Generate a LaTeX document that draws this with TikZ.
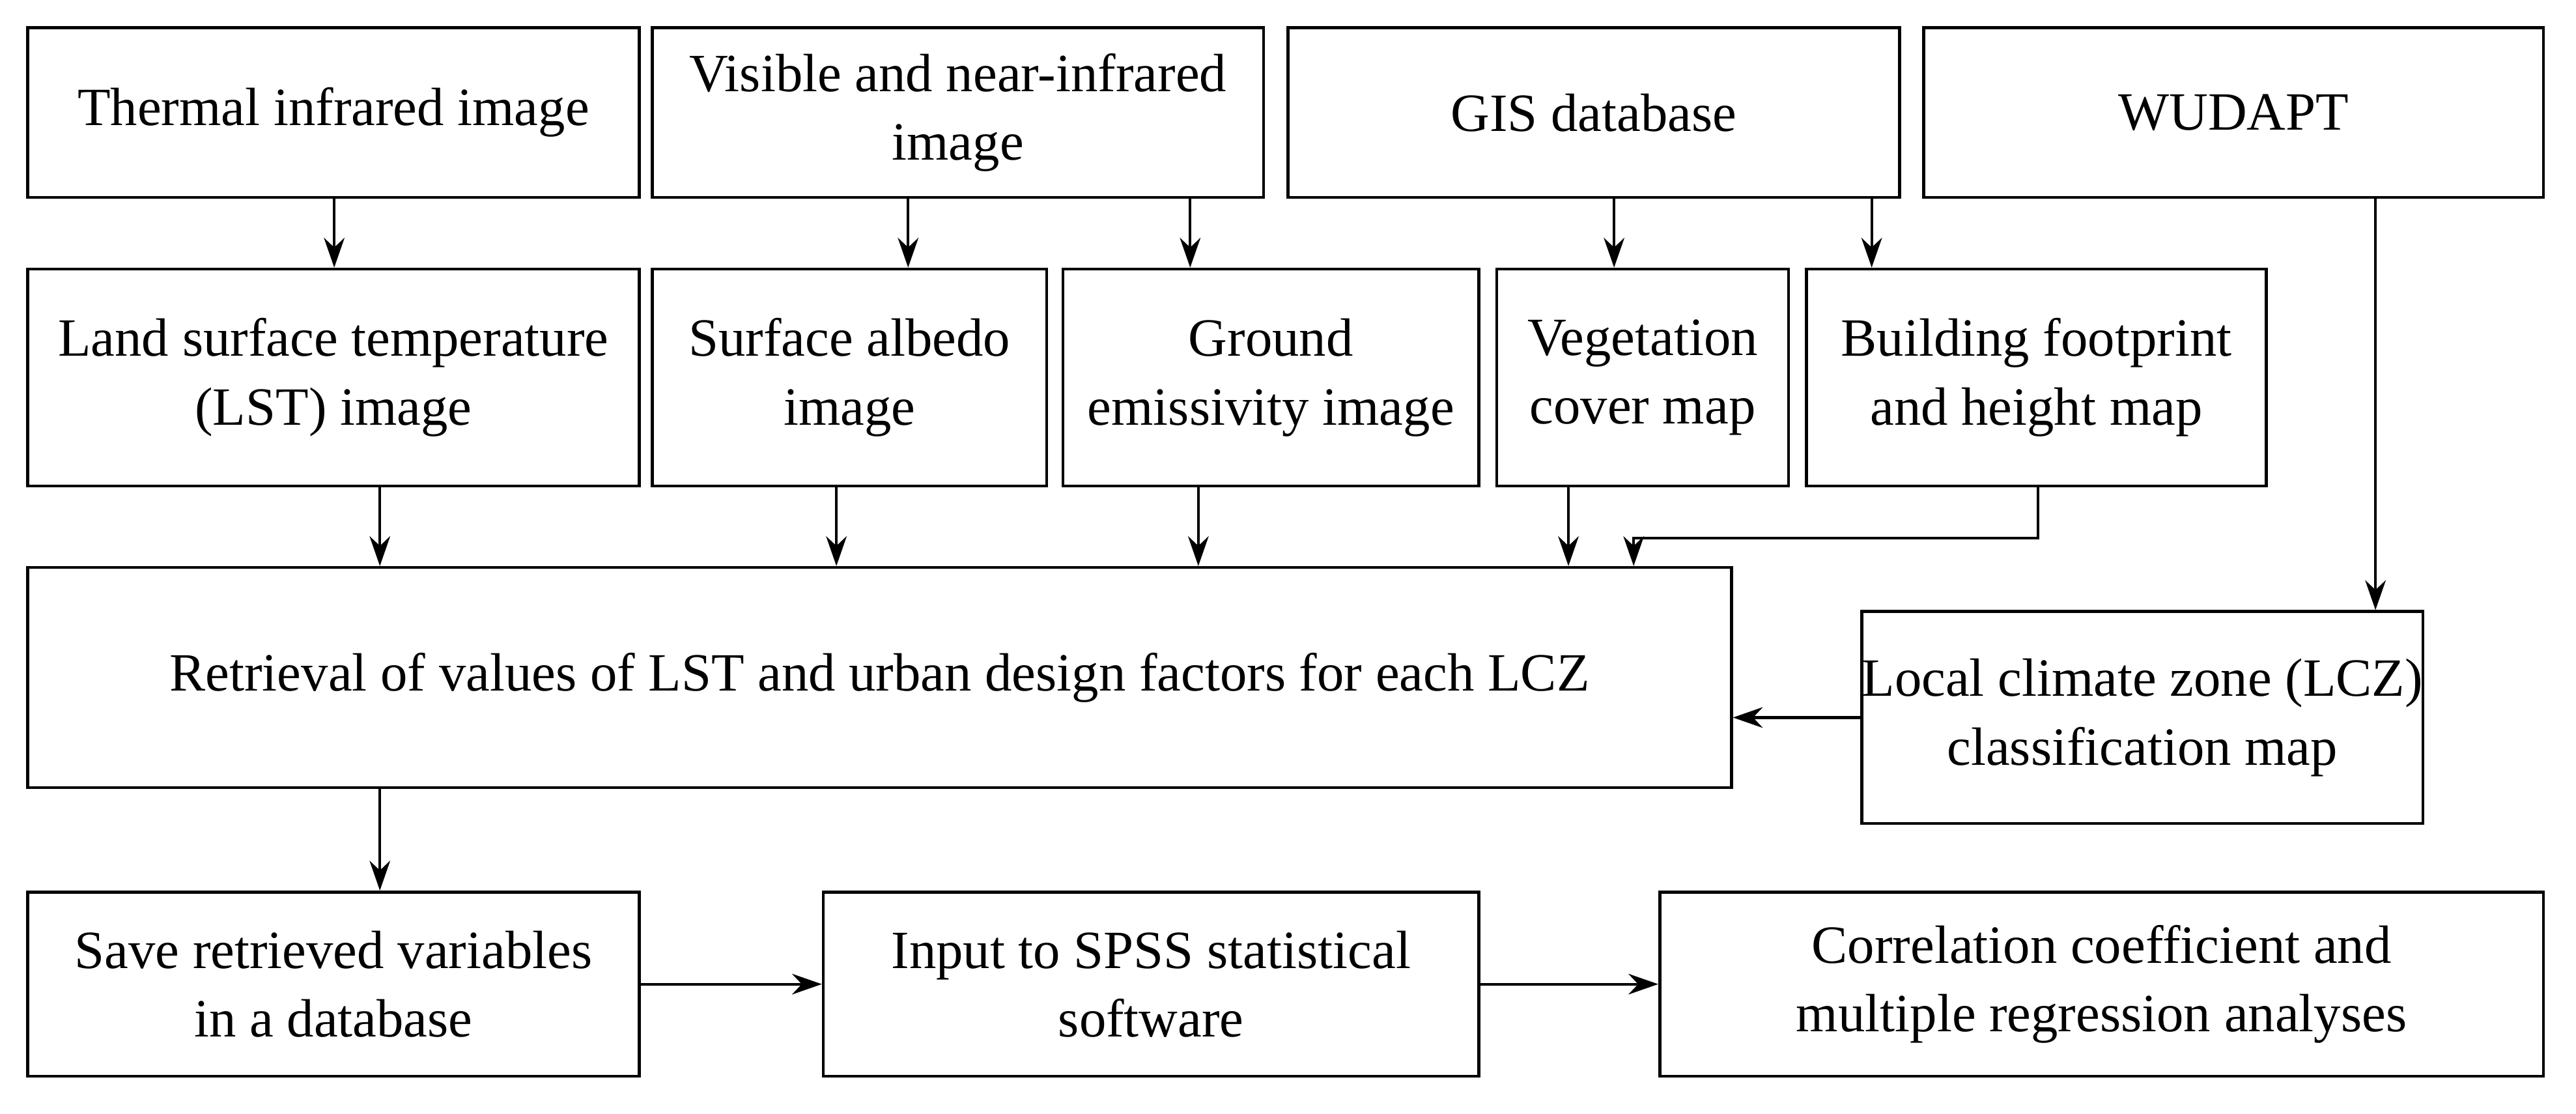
\documentclass[tikz,border=0pt]{standalone}
\usepackage{fontspec}
\setmainfont{Liberation Serif}
\usetikzlibrary{arrows.meta}
\begin{document}
\begin{tikzpicture}[x=0.025cm,y=-0.025cm,
 box/.style={draw,line width=1.3pt,align=center,inner sep=0pt,font=\fontsize{23.5}{30}\selectfont},
 bx/.style 2 args={minimum width={#1*0.025cm},minimum height={#2*0.025cm}},
 arr/.style={line width=1.2pt,-{Stealth[length=13pt,width=9pt]}}]
\useasboundingbox (0,0) rectangle (1580,683);
\node[box,bx={375}{104}] (t1) at (204.5,69) {Thermal infrared image};
\node[box,bx={375}{104}] (t2) at (587.5,69) {Visible and near-infrared\\image};
\node[box,bx={375}{104}] (t3) at (977.5,69) {GIS database};
\node[box,bx={380}{104}] (t4) at (1370,69) {WUDAPT};
\node[box,bx={375}{133}] (lst) at (204.5,231.5) {Land surface temperature\\(LST) image};
\node[box,bx={242}{133}] (alb) at (521,231.5) {Surface albedo\\image};
\node[box,bx={255}{133}] (emi) at (779.5,231.5) {Ground\\emissivity image};
\node[box,bx={179}{133}] (veg) at (1007.5,231.5) {Vegetation\\cover map};
\node[box,bx={282}{133}] (bld) at (1249,231.5) {Building footprint\\and height map};
\node[box,bx={1045}{135}] (ret) at (539.5,415.5) {Retrieval of values of LST and urban design factors for each LCZ};
\node[box,bx={342}{130}] (lcz) at (1314,440) {Local climate zone (LCZ)\\classification map};
\node[box,bx={375}{113}] (sav) at (204.5,603.5) {Save retrieved variables\\in a database};
\node[box,bx={402}{113}] (inp) at (706,603.5) {Input to SPSS statistical\\software};
\node[box,bx={542}{113}] (cor) at (1289,603.5) {Correlation coefficient and\\multiple regression analyses};
\coordinate (a) at (205,0); \coordinate (b) at (557,0); \coordinate (c) at (730,0);
\coordinate (d) at (990,0); \coordinate (e) at (1148,0); \coordinate (f) at (1457,0);
\coordinate (g) at (233,0); \coordinate (h) at (513,0); \coordinate (i) at (735,0);
\coordinate (j) at (962,0); \coordinate (k) at (1250,0); \coordinate (l) at (1002,0);
\coordinate (bend) at (0,330);
\draw[arr] (t1.south -| a) -- (lst.north -| a);
\draw[arr] (t2.south -| b) -- (alb.north -| b);
\draw[arr] (t2.south -| c) -- (emi.north -| c);
\draw[arr] (t3.south -| d) -- (veg.north -| d);
\draw[arr] (t3.south -| e) -- (bld.north -| e);
\draw[arr] (t4.south -| f) -- (lcz.north -| f);
\draw[arr] (lst.south -| g) -- (ret.north -| g);
\draw[arr] (alb.south -| h) -- (ret.north -| h);
\draw[arr] (emi.south -| i) -- (ret.north -| i);
\draw[arr] (veg.south -| j) -- (ret.north -| j);
\draw[arr] (bld.south -| k) -- (k |- bend) -- (l |- bend) -- (ret.north -| l);
\draw[arr] (lcz.west) -- (ret.east |- lcz.west);
\draw[arr] (ret.south -| g) -- (sav.north -| g);
\draw[arr] (sav.east) -- (inp.west);
\draw[arr] (inp.east) -- (cor.west);
\end{tikzpicture}
\end{document}
